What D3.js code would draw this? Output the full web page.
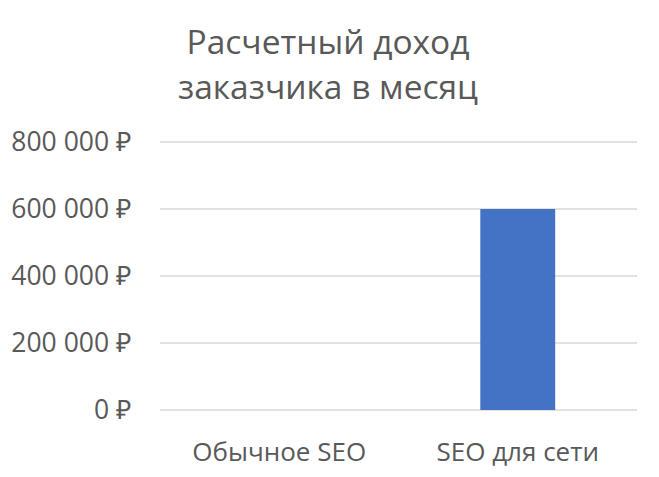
<!DOCTYPE html>
<html>
<head>
<meta charset="utf-8">
<script src="https://cdn.jsdelivr.net/npm/d3@7"></script>
<style>
  body { margin: 0; background: #fff; }
  text { font-family: "Open Sans", sans-serif; fill: #595959; }
</style>
</head>
<body>
<div id="chart"></div>
<script>
const categories = ['Обычное SEO', 'SEO для сети'];
const income = [0, 600000];
const yTicks = [0, 200000, 400000, 600000, 800000];
const titleLines = ['Расчетный доход', 'заказчика в месяц'];

const width = 659, height = 477;
const margin = {top: 142, right: 22, bottom: 67, left: 160};

const svg = d3.select('#chart').append('svg')
    .attr('width', width)
    .attr('height', height);

const x = d3.scaleBand()
    .domain(categories)
    .range([margin.left, width - margin.right])
    .paddingInner(0.686)
    .paddingOuter(0.343);

const y = d3.scaleLinear()
    .domain([0, 800000])
    .range([height - margin.bottom, margin.top]);

const fmt = function (v) {
    return d3.format(',')(v).replace(/,/g, ' ') + ' ₽';
};

// gridlines
svg.append('g')
    .selectAll('line')
    .data(yTicks)
    .enter()
    .append('line')
    .attr('x1', margin.left)
    .attr('x2', width - margin.right)
    .attr('y1', function (d) { return y(d); })
    .attr('y2', function (d) { return y(d); })
    .attr('stroke', '#d9d9d9')
    .attr('stroke-width', 1.3);

// y labels
svg.append('g')
    .selectAll('text')
    .data(yTicks)
    .enter()
    .append('text')
    .attr('x', 131)
    .attr('y', function (d) { return y(d); })
    .attr('dy', '0.35em')
    .attr('text-anchor', 'end')
    .style('font-size', '26.5px')
    .text(fmt);

// bars
svg.append('g')
    .selectAll('rect')
    .data(income)
    .enter()
    .append('rect')
    .attr('x', function (d, i) { return x(categories[i]); })
    .attr('y', function (d) { return y(d); })
    .attr('width', x.bandwidth())
    .attr('height', function (d) { return y(0) - y(d); })
    .attr('fill', '#4472c4');

// category labels
svg.append('g')
    .selectAll('text')
    .data(categories)
    .enter()
    .append('text')
    .attr('x', function (d) { return x(d) + x.bandwidth() / 2; })
    .attr('y', 461)
    .attr('text-anchor', 'middle')
    .style('font-size', '26px')
    .text(function (d) { return d; });

// title
svg.append('g')
    .selectAll('text')
    .data(titleLines)
    .enter()
    .append('text')
    .attr('x', 328)
    .attr('y', function (d, i) { return 54 + i * 45; })
    .attr('text-anchor', 'middle')
    .style('font-size', '33.5px')
    .text(function (d) { return d; });
</script>
</body>
</html>
